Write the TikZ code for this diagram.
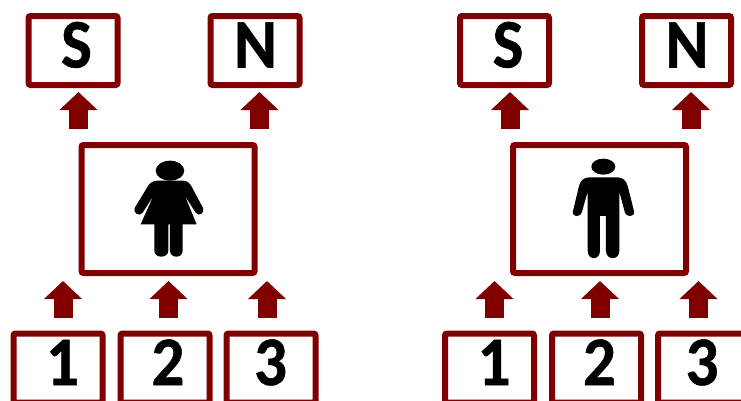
\documentclass[tikz,border=0pt]{standalone}
\usepackage{fontspec}
\usepackage{graphicx}
\setmainfont{Carlito}[BoldFeatures={FakeBold=0.8}]
\usetikzlibrary{arrows.meta}
\definecolor{maroonline}{HTML}{800000}
\newcommand{\boxlabel}[2]{\makebox[0pt]{\hspace*{#1}\smash{\raisebox{-17pt}{\scalebox{1}[1.07]{#2}}}}}
\tikzset{
  labeltext/.style={inner sep=0pt,font=\fontsize{65pt}{65pt}\selectfont\bfseries},
  panelbox/.style={draw=maroonline,line width=6pt,fill=white,rounded corners=2pt,inner sep=0pt},
  smallbox/.style={panelbox,minimum width=89pt,minimum height=69pt},
  centrebox/.style={panelbox,minimum width=173pt,minimum height=128pt},
  blockarrow/.style={draw=maroonline,line width=19pt,
    -{Triangle[length=18pt,width=37pt,fill=maroonline]}},
  figureshape/.style={fill=black,draw=none}
}
\newcommand{\panelparts}{%
  \node[smallbox] (S) at (73.5,50.5) {};
  \node[smallbox] (N) at (255.5,50.5) {};
  \node[centrebox] (big) at (168.5,209) {};
  \node[smallbox] (one) at (58.5,368) {};
  \node[smallbox] (two) at (165.5,368) {};
  \node[smallbox] (three) at (271.5,368) {};
  \node[labeltext] (Stext) at (S.center) {\boxlabel{7pt}{S}};
  \node[labeltext] (Ntext) at (N.center) {\boxlabel{1pt}{N}};
  \node[labeltext] (onetext) at (one.center) {\boxlabel{9pt}{1}};
  \node[labeltext] (twotext) at (two.center) {\boxlabel{6pt}{2}};
  \node[labeltext] (threetext) at (three.center) {\boxlabel{-1pt}{3}};
  \draw[blockarrow,shorten <=13pt,shorten >=4pt] ([xshift=5.5pt]S.south |- big.north) -- ([xshift=5.5pt]S.south);
  \draw[blockarrow,shorten <=13pt,shorten >=4pt] ([xshift=4.5pt]N.south |- big.north) -- ([xshift=4.5pt]N.south);
  \draw[blockarrow,shorten <=13pt,shorten >=5pt] ([xshift=5pt]one.north) -- ([xshift=5pt]one.north |- big.south);
  \draw[blockarrow,shorten <=13pt,shorten >=5pt] ([xshift=3.5pt]two.north) -- ([xshift=3.5pt]two.north |- big.south);
  \draw[blockarrow,shorten <=13pt,shorten >=5pt] ([xshift=-4pt]three.north) -- ([xshift=-4pt]three.north |- big.south);
}
\begin{document}
\begin{tikzpicture}[x=1pt,y=-1pt]
\useasboundingbox (0,0) rectangle (741,400);
\clip (0,0) rectangle (741,400);
\fill[white] (0,0) rectangle (741,400);
\begin{scope}[shift={(-0.5,0)},name prefix=left-]
  \panelparts
  \begin{scope}[shift={(70.5,130)},x=0.3333pt,y=-0.3333pt]
    \fill[figureshape] (300,122) ellipse [x radius=14.3pt,y radius=10pt];
    \fill[figureshape] (262,152) -- (338,152) .. controls (350,152) and (358,158) .. (364,168)
      -- (399,234) .. controls (406,248) and (386,262) .. (377,248)
      -- (345,198) -- (380,283) -- (338,283) -- (338,362)
      .. controls (338,386) and (300,386) .. (300,362) -- (300,283) -- (295,283) -- (295,362)
      .. controls (295,386) and (253,386) .. (253,362) -- (253,283) -- (212,283)
      -- (250,198) -- (218,248) .. controls (209,262) and (187,248) .. (194,234)
      -- (234,168) .. controls (240,158) and (250,152) .. (262,152) -- cycle;
  \end{scope}
\end{scope}
\begin{scope}[shift={(431,0)},name prefix=right-]
  \panelparts
  \begin{scope}[shift={(69,130)},x=0.3333pt,y=-0.3333pt]
    \fill[figureshape] (310,110) ellipse [x radius=12pt,y radius=8pt];
    \fill[figureshape] (268,142) -- (352,142) .. controls (368,142) and (379,152) .. (383,168)
      -- (402,243) .. controls (406,262) and (378,264) .. (374,245)
      -- (358,185) -- (358,362) .. controls (358,392) and (318,392) .. (318,362)
      -- (318,258) -- (300,258) -- (300,362) .. controls (300,392) and (263,392) .. (263,362)
      -- (263,185) -- (246,245) .. controls (241,264) and (215,262) .. (219,243)
      -- (237,168) .. controls (241,152) and (252,142) .. (268,142) -- cycle;
  \end{scope}
\end{scope}
\end{tikzpicture}
\end{document}
